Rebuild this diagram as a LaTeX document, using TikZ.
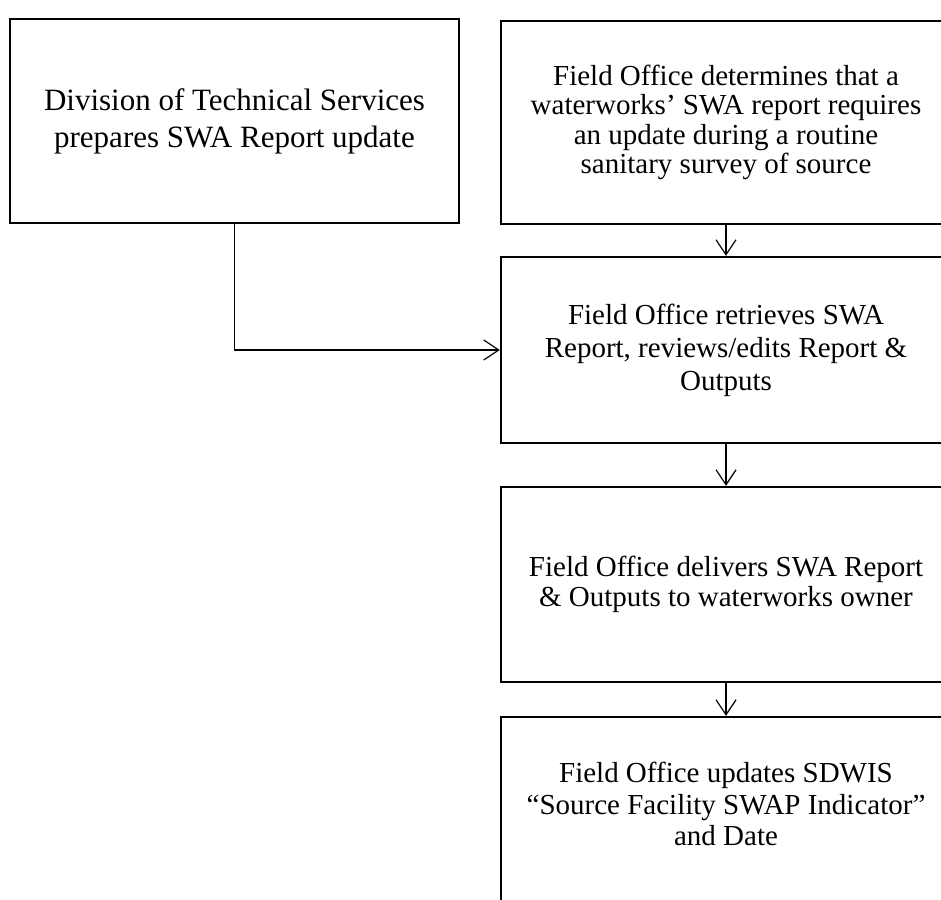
\documentclass[tikz,border=0pt]{standalone}
\usepackage{fontspec}
\setmainfont{Liberation Serif}
\usetikzlibrary{arrows.meta}
\begin{document}
\begin{tikzpicture}[x=1pt,y=-1pt,
  box/.style={draw, line width=2.3pt, rectangle, inner sep=0pt, align=center, minimum width=450pt},
  conn/.style={line width=1.2pt, -{Straight Barb[length=15pt,width=20pt]}},
  txt/.style={align=center, inner sep=0pt, font=\fontsize{29}{31.5}\selectfont}]
\useasboundingbox (0,0) rectangle (941,899);
\node[box, minimum width=449pt, minimum height=204pt, font=\fontsize{31}{37}\selectfont] (A) at (234.5,121) {Division of Technical Services\\prepares SWA Report update};
\node[box, minimum height=203pt, font=\fontsize{29}{29.5}\selectfont] (B) at (726,122.5) {Field Office determines that a\\waterworks’ SWA report requires\\an update during a routine\\sanitary survey of source};
\node[box, minimum height=186pt, font=\fontsize{29}{33}\selectfont] (C) at (726,350) {Field Office retrieves SWA\\Report, reviews/edits Report \&\\Outputs};
\node[box, minimum height=195pt, font=\fontsize{29}{30.5}\selectfont] (D) at (726,584.5) {Field Office delivers SWA Report\\\& Outputs to waterworks owner};
\node[box, minimum height=190pt] (E) at (726,812) {};
\node[txt] (Et) at (726,804) {Field Office updates SDWIS\\“Source Facility SWAP Indicator”\\and Date};
\draw[conn] (A.south) |- (C.west);
\draw[conn] (B.south) -- (C.north);
\draw[conn] (C.south) -- (D.north);
\draw[conn] (D.south) -- (E.north);
\end{tikzpicture}
\end{document}
